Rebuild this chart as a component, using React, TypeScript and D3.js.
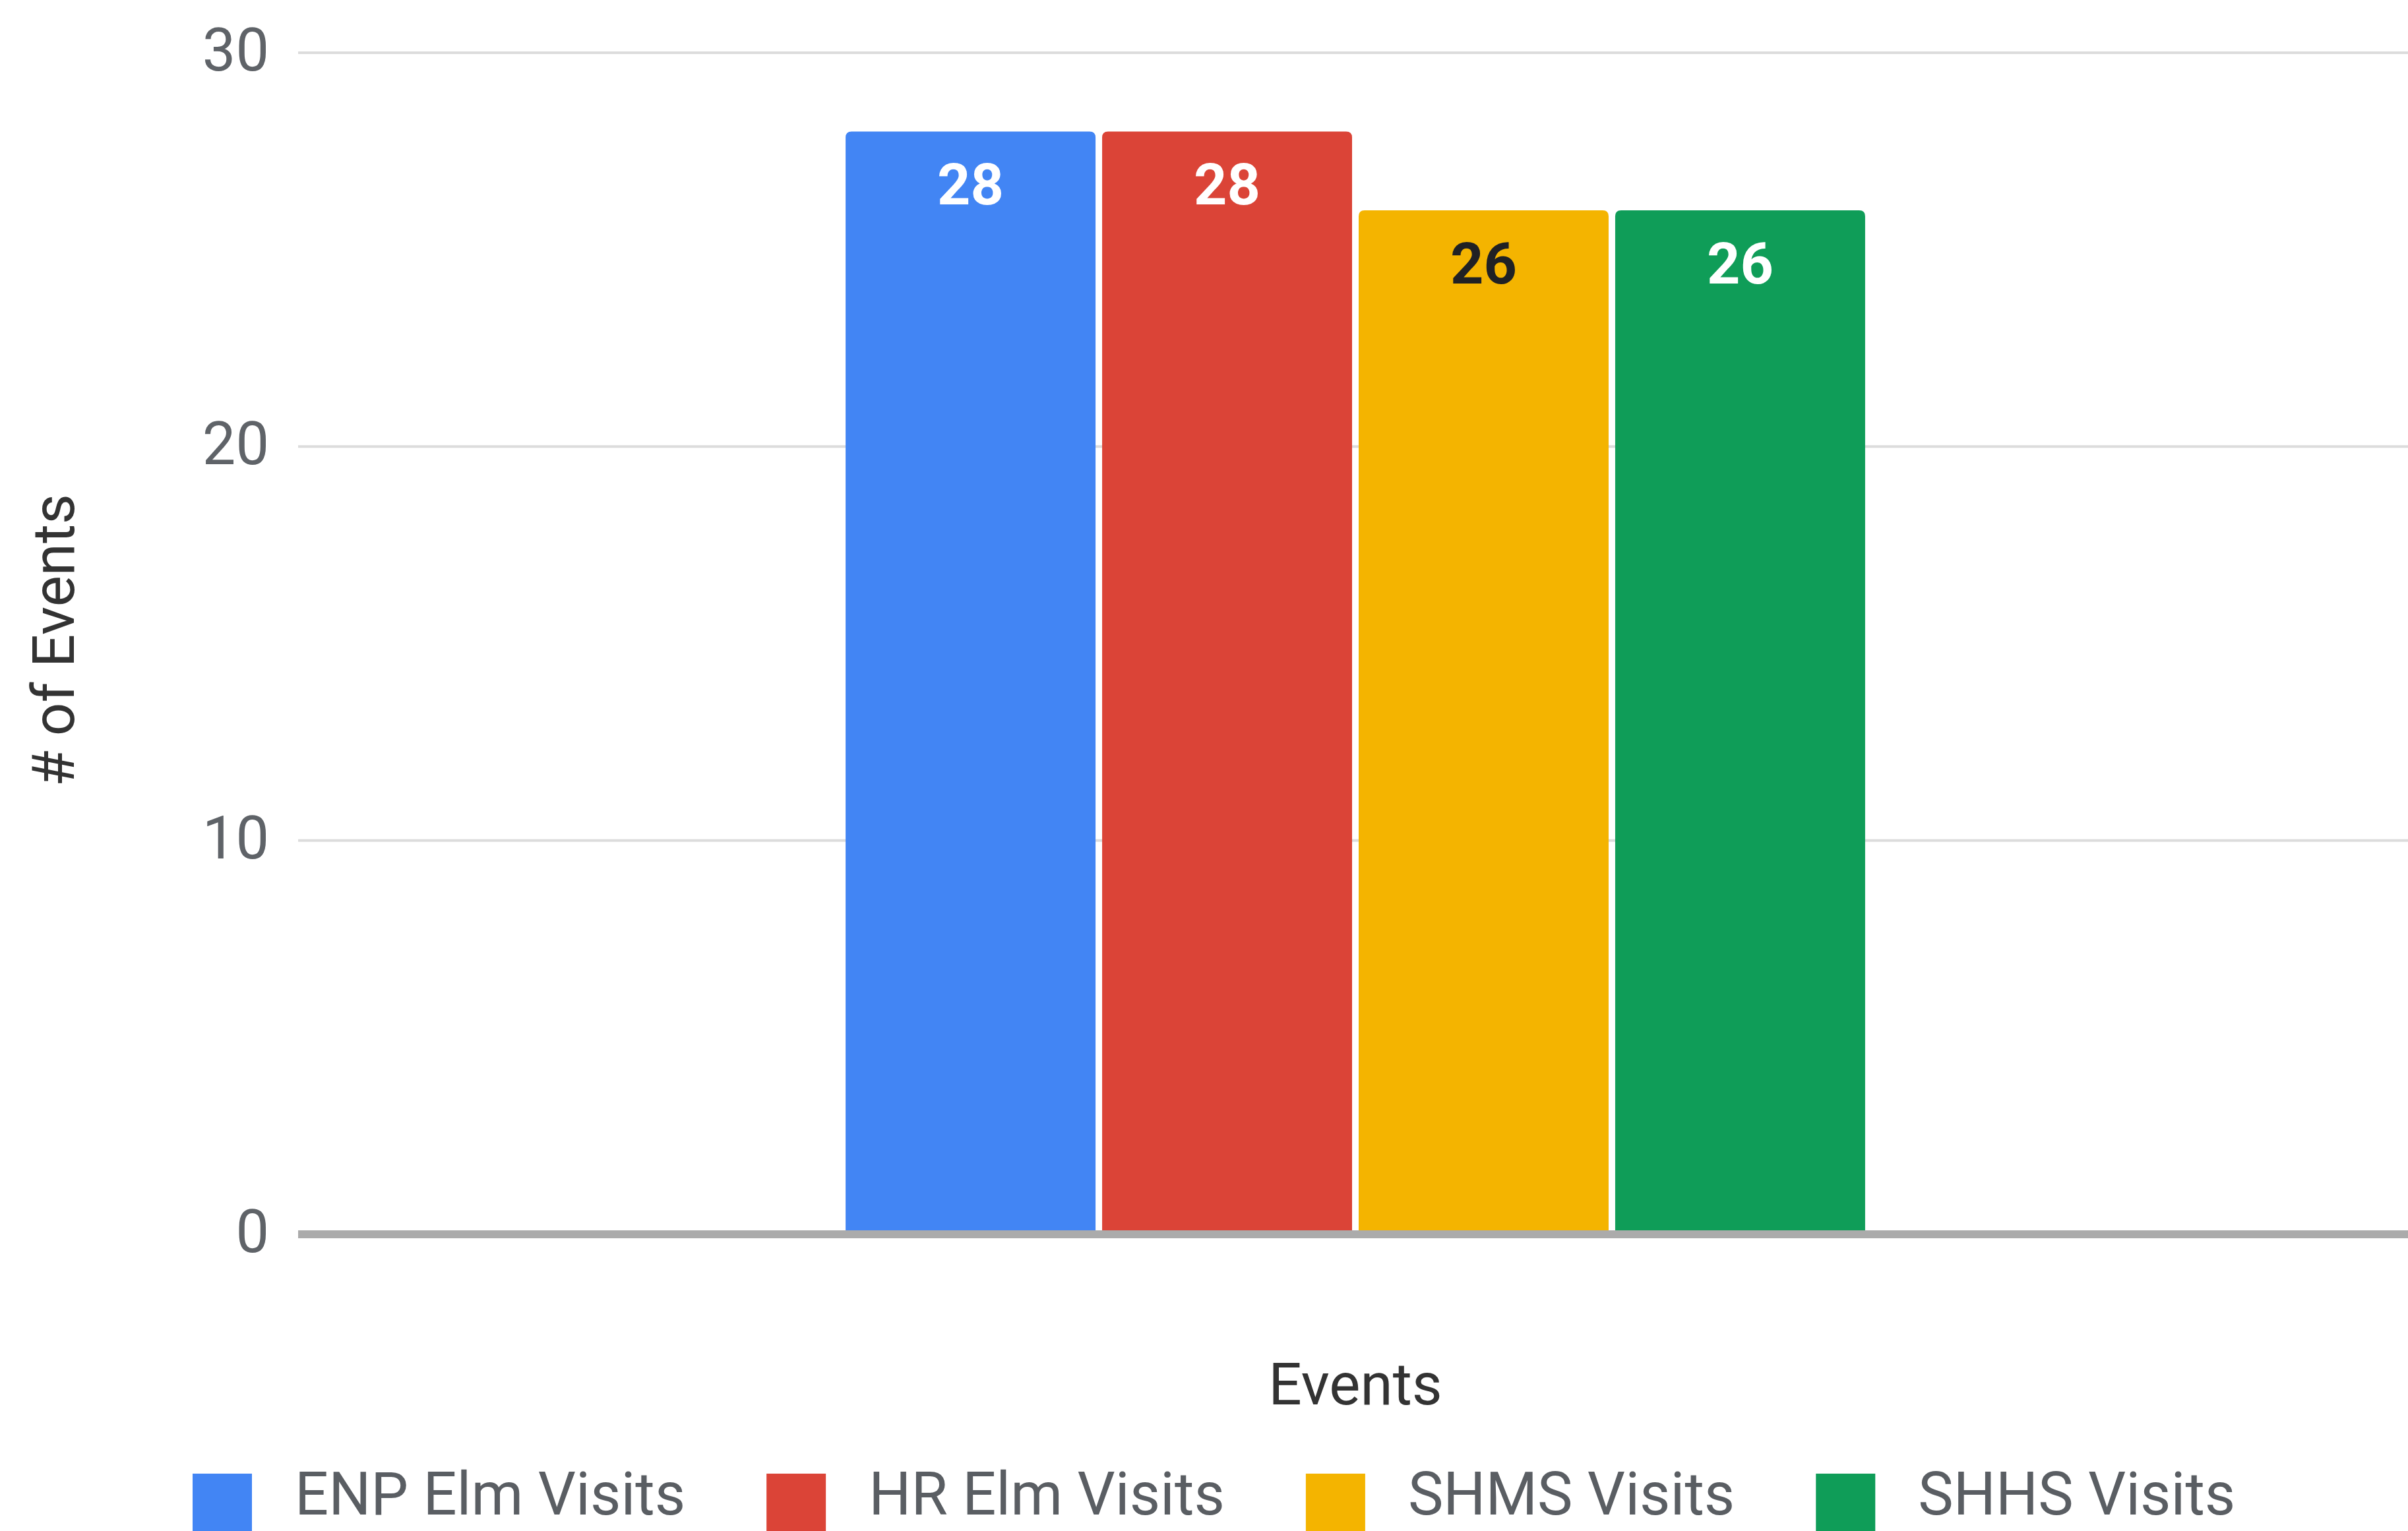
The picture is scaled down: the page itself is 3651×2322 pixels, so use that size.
import React, { useEffect, useRef } from 'react';
import * as d3 from 'd3';

// chart data
const categories = ['Events'];
const seriesNames = ['ENP Elm Visits', 'HR Elm Visits', 'SHMS Visits', 'SHHS Visits'];
const seriesValues = [28, 28, 26, 26];
const seriesColors = ['#4285F4', '#DB4437', '#F4B400', '#0F9D58'];
const labelColors = ['#ffffff', '#ffffff', '#202124', '#ffffff'];
const yTicks = [0, 10, 20, 30];

const W = 3651;
const H = 2322;

const App: React.FC = () => {
  const ref = useRef<SVGSVGElement | null>(null);

  useEffect(() => {
    if (!ref.current) return;
    const svg = d3.select(ref.current);
    svg.selectAll('*').remove();

    const font = 'Roboto, "Noto Sans", Arial, sans-serif';
    const left = 452;
    const right = 3658;

    const y = d3.scaleLinear().domain([0, 30]).range([1872, 80]);

    const x0 = d3
      .scaleBand<string>()
      .domain(categories)
      .range([left, right])
      .paddingInner(0)
      .paddingOuter(0.537);

    const x1 = d3
      .scaleBand<string>()
      .domain(seriesNames)
      .range([0, x0.bandwidth()])
      .paddingInner(0.0257)
      .paddingOuter(0);

    // gridlines
    svg
      .append('g')
      .selectAll('line')
      .data(yTicks.filter(t => t !== 0))
      .join('line')
      .attr('x1', left)
      .attr('x2', W)
      .attr('y1', d => y(d))
      .attr('y2', d => y(d))
      .attr('stroke', '#dcdcdc')
      .attr('stroke-width', 4);

    // tick labels
    svg
      .append('g')
      .selectAll('text')
      .data(yTicks)
      .join('text')
      .attr('x', 408)
      .attr('y', d => y(d) + 27)
      .attr('text-anchor', 'end')
      .attr('font-family', font)
      .attr('font-size', 90)
      .attr('fill', '#5f6368')
      .text(d => String(d));

    // bars with rounded top corners
    const r = 9;
    categories.forEach(cat => {
      const g = svg.append('g').attr('transform', `translate(${x0(cat)},0)`);
      seriesNames.forEach((name, i) => {
        const bx = x1(name)!;
        const bw = x1.bandwidth();
        const top = y(seriesValues[i]);
        const bottom = y(0);
        const p = d3.path();
        p.moveTo(bx, bottom);
        p.lineTo(bx, top + r);
        p.quadraticCurveTo(bx, top, bx + r, top);
        p.lineTo(bx + bw - r, top);
        p.quadraticCurveTo(bx + bw, top, bx + bw, top + r);
        p.lineTo(bx + bw, bottom);
        p.closePath();
        g.append('path').attr('d', p.toString()).attr('fill', seriesColors[i]);

        g.append('text')
          .attr('x', bx + bw / 2)
          .attr('y', top + 111)
          .attr('text-anchor', 'middle')
          .attr('font-family', font)
          .attr('font-weight', 'bold')
          .attr('font-size', 88)
          .attr('fill', labelColors[i])
          .text(String(seriesValues[i]));
      });
    });

    // baseline
    svg
      .append('line')
      .attr('x1', left)
      .attr('x2', W)
      .attr('y1', y(0))
      .attr('y2', y(0))
      .attr('stroke', '#ababab')
      .attr('stroke-width', 12);

    // axis titles
    svg
      .append('text')
      .attr('transform', `translate(112,971) rotate(-90)`)
      .attr('text-anchor', 'middle')
      .attr('font-family', font)
      .attr('font-size', 89)
      .attr('fill', '#333333')
      .text('# of Events');

    svg
      .append('text')
      .attr('x', x0(categories[0])! + x0.bandwidth() / 2)
      .attr('y', 2130)
      .attr('text-anchor', 'middle')
      .attr('font-family', font)
      .attr('font-size', 89)
      .attr('fill', '#333333')
      .text('Events');

    // legend
    const legend = svg.append('g');
    let lx = 292;
    seriesNames.forEach((name, i) => {
      legend
        .append('rect')
        .attr('x', lx)
        .attr('y', 2235)
        .attr('width', 90)
        .attr('height', 90)
        .attr('fill', seriesColors[i]);
      const t = legend
        .append('text')
        .attr('x', lx + 155)
        .attr('y', 2297)
        .attr('font-family', font)
        .attr('font-size', 90)
        .attr('fill', '#5a5e63')
        .text(name);
      const tw = (t.node() as SVGTextElement).getComputedTextLength();
      lx = lx + 155 + tw + 123;
    });
  }, []);

  return (
    <svg
      ref={ref}
      width={W}
      height={H}
      style={{ position: 'absolute', left: 0, top: 0, background: '#ffffff' }}
    />
  );
};

export default App;
